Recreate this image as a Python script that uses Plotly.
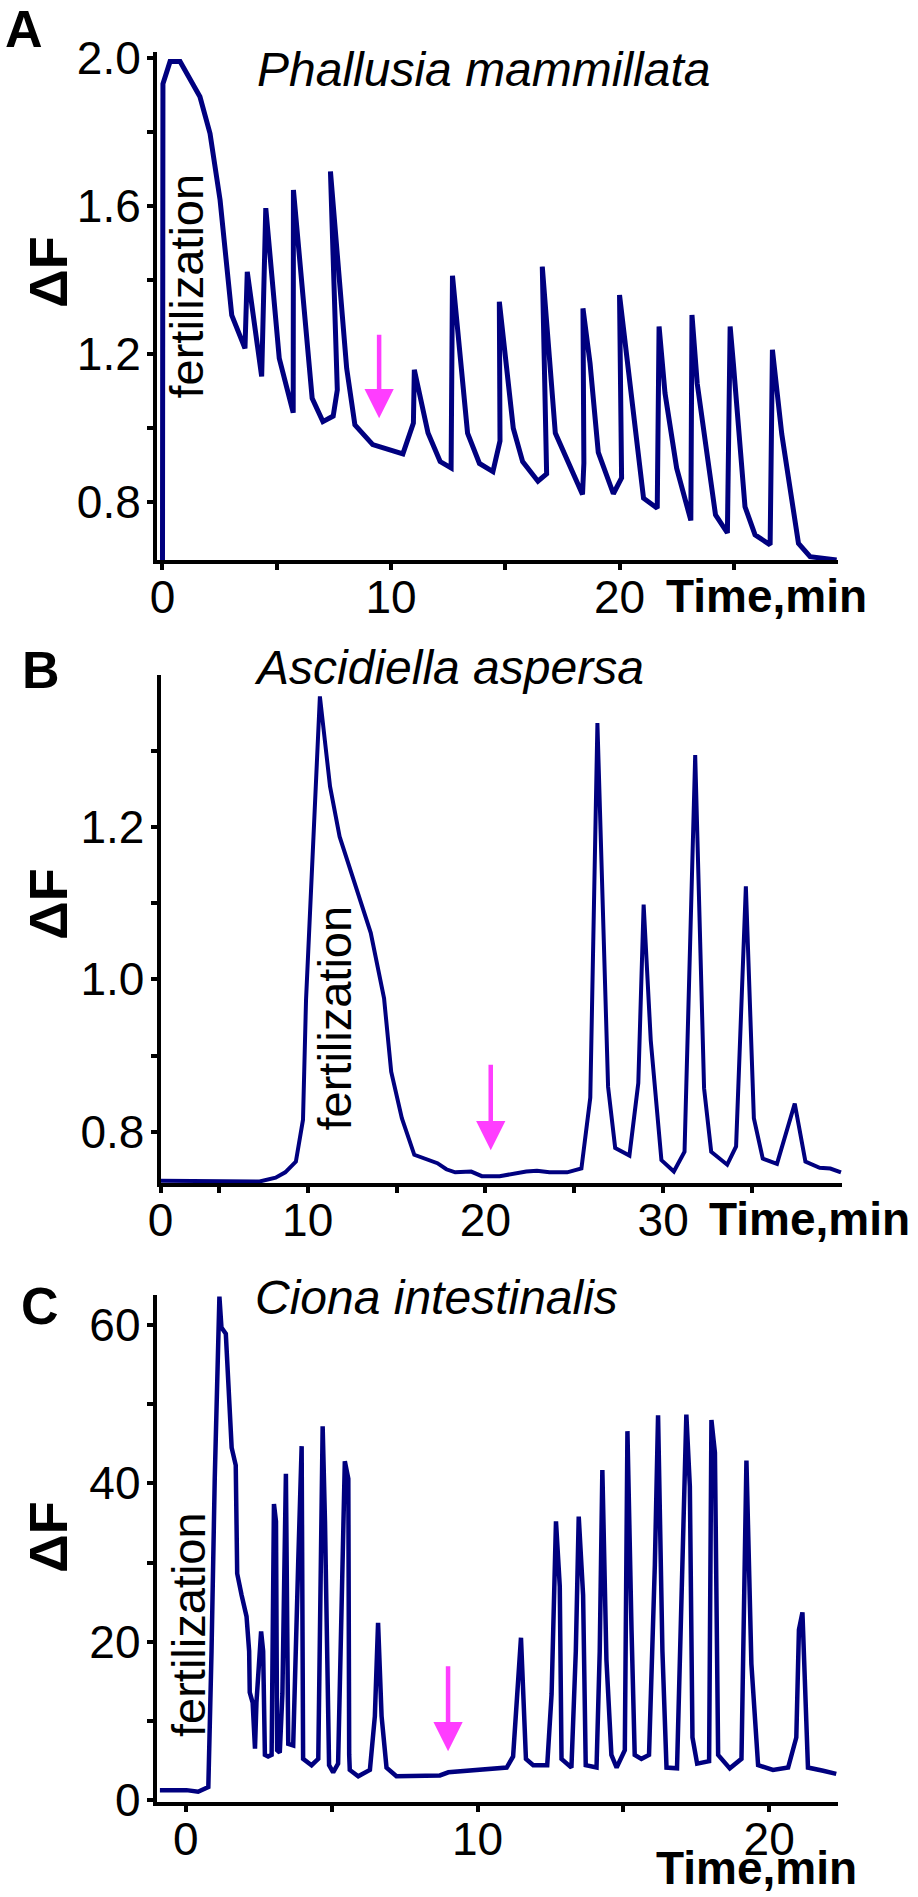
import plotly.graph_objects as go

W, H = 918, 1897
FONT = "Liberation Sans, Arial, Helvetica, sans-serif"
NAVY = "#00007F"
MAGENTA = "#FF3DFF"

# ---------------- data ----------------
# Panel A: Phallusia mammillata
a_time = [0.00, 0.02, 0.33, 0.77, 1.64, 2.08, 2.52, 2.81, 3.03, 3.61, 3.71, 4.34, 4.52, 5.11,
          5.72, 5.73, 6.55, 7.02, 7.47, 7.65, 7.35, 8.06, 8.42, 9.20, 10.52, 10.98, 11.02,
          11.62, 12.15, 12.63, 12.67, 12.69, 13.35, 13.87, 14.46, 14.77, 14.74, 15.35, 15.76,
          16.43, 16.81, 16.62, 17.19, 18.38, 18.44, 18.40, 18.71, 19.07, 19.73, 20.09, 20.00,
          21.05, 21.65, 21.67, 21.73, 21.99, 22.50, 23.12, 23.17, 23.40, 24.20, 24.72, 24.84,
          24.98, 25.49, 25.93, 26.59, 26.69, 27.10, 27.83, 28.34, 29.50]
a_dF = [0.60, 1.93, 1.99, 1.99, 1.895, 1.796, 1.616, 1.418, 1.305, 1.215, 1.422, 1.139, 1.594, 1.188,
        1.041, 1.643, 1.080, 1.017, 1.032, 1.103, 1.693, 1.161, 1.008, 0.955, 0.930, 1.013, 1.157,
        0.986, 0.909, 0.892, 1.112, 1.411, 0.986, 0.904, 0.882, 0.965, 1.341, 0.999, 0.909,
        0.856, 0.876, 1.436, 0.986, 0.820, 0.905, 1.323, 1.175, 0.934, 0.822, 0.865, 1.359,
        0.810, 0.783, 1.022, 1.274, 1.094, 0.891, 0.750, 1.305, 1.120, 0.765, 0.716, 1.274,
        1.175, 0.787, 0.711, 0.684, 1.211, 0.983, 0.688, 0.652, 0.643]

# Panel B: Ascidiella aspersa
b_time = [1.73, 4.0, 7.3, 8.2, 8.74, 9.34, 9.74, 9.91, 10.41, 10.69, 11.26, 11.8, 13.55, 14.3,
          14.7, 15.3, 16.0, 17.3, 17.8, 18.3, 19.2, 19.8, 20.8, 22.3, 22.9, 23.6, 24.6, 25.4,
          25.9, 26.3, 26.9, 27.3, 28.1, 28.6, 28.9, 29.3, 29.9, 30.6, 31.2, 31.8, 32.3, 32.7,
          33.6, 34.1, 34.65, 35.1, 35.6, 36.4, 37.4, 38.0, 38.8, 39.4, 40.0]
b_dF = [0.736, 0.736, 0.735, 0.740, 0.747, 0.761, 0.816, 0.973, 1.218, 1.371, 1.253, 1.187, 1.061,
        0.975, 0.879, 0.818, 0.770, 0.759, 0.751, 0.747, 0.748, 0.742, 0.742, 0.748, 0.749, 0.747,
        0.747, 0.752, 0.845, 1.336, 0.859, 0.779, 0.769, 0.864, 1.098, 0.920, 0.763, 0.748, 0.774,
        1.294, 0.857, 0.774, 0.757, 0.781, 1.122, 0.818, 0.765, 0.758, 0.837, 0.761, 0.753, 0.752,
        0.747]

# Panel C: Ciona intestinalis
c_time = [-0.89, 0.02, 0.42, 0.77, 0.88, 0.99, 1.15, 1.22, 1.37, 1.49, 1.57, 1.71, 1.76, 1.91,
          2.08, 2.17, 2.19, 2.29, 2.37, 2.42, 2.58, 2.65, 2.71, 2.82, 2.94, 3.02, 3.09, 3.13, 3.22,
          3.31, 3.43, 3.51, 3.68, 3.85, 3.97, 4.02, 4.31, 4.54, 4.69, 4.77, 4.91, 5.05, 5.22, 5.45,
          5.57, 5.60, 5.62, 5.91, 6.31, 6.48, 6.59, 6.71, 6.88, 7.22, 7.91, 8.71, 9.00, 9.40, 11.00,
          11.22, 11.49, 11.66, 11.91, 12.39, 12.54, 12.69, 12.82, 12.88, 13.22, 13.37, 13.47, 13.62,
          13.71, 14.08, 14.19, 14.28, 14.42, 14.59, 14.77, 15.05, 15.14, 15.28, 15.39, 15.62, 15.88,
          16.08, 16.19, 16.34, 16.48, 16.84, 17.03, 17.16, 17.28, 17.37, 17.53, 17.94, 18.02, 18.14,
          18.25, 18.65, 19.05, 19.22, 19.39, 19.62, 20.13, 20.65, 20.93, 21.02, 21.14, 21.33, 21.85,
          22.30]
c_dF = [1.25, 1.25, 1.04, 1.64, 18.8, 40.6, 63.6, 59.7, 58.9, 49.9, 44.5, 42.3, 28.6, 25.9,
        23.2, 18.8, 13.6, 12.3, 6.5, 12.3, 21.3, 18.8, 5.7, 5.5, 5.7, 37.4, 35.2, 6.3, 6.0,
        13.4, 41.2, 7.1, 6.9, 29.7, 44.7, 5.2, 4.4, 5.2, 47.2, 35.2, 4.4, 3.5, 4.6, 42.8,
        40.6, 5.7, 3.8, 3.0, 3.8, 10.6, 22.4, 10.6, 4.1, 3.0, 3.0, 3.1, 3.5, 3.6, 4.1,
        5.5, 20.5, 5.2, 4.4, 4.4, 13.4, 35.2, 27.0, 5.2, 4.1, 18.8, 35.8, 25.9,
        4.4, 4.1, 18.8, 41.7, 17.7, 5.7, 4.1, 6.3, 46.6, 21.5, 5.7, 5.2, 5.7,
        29.7, 48.6, 18.8, 4.1, 4.0, 29.7, 48.7, 39.6, 7.9, 4.6, 4.9, 48.0, 43.9,
        5.7, 4.0, 5.2, 42.9, 17.2, 4.4, 3.8, 4.1, 7.9, 21.5, 23.7, 4.1, 3.7,
        3.3]

species = ["Phallusia mammillata", "Ascidiella aspersa", "Ciona intestinalis"]
panel_letters = ["A", "B", "C"]
y_label = "\u0394F"
x_label = "Time,min"
event_label = "fertilization"

# magenta arrows (time, tail value, tip value)
arrow_time = [9.48, 20.3, 8.99]
arrow_tail = [1.256, 0.89, 17.1]
arrow_tip = [1.026, 0.776, 6.15]

# tick labels
a_xticks = [0, 10, 20]
a_yticks = [0.8, 1.2, 1.6, 2.0]
b_xtickvals = [1.73, 10, 20, 30]
b_xticktext = ["0", "10", "20", "30"]
b_yticks = [0.8, 1.0, 1.2]
c_xticks = [0, 10, 20]
c_yticks = [0, 20, 40, 60]


def px(x):
    return x / W


def py(y):
    return 1 - y / H


fig = go.Figure()

series = [(a_time, a_dF, 5.0), (b_time, b_dF, 4.0), (c_time, c_dF, 4.5)]
for i, (t, v, lw) in enumerate(series):
    sfx = "" if i == 0 else str(i + 1)
    fig.add_trace(go.Scatter(x=t, y=v, mode="lines", line=dict(color=NAVY, width=lw),
                             xaxis="x" + sfx, yaxis="y" + sfx, showlegend=False,
                             hoverinfo="skip"))

common = dict(showline=True, linecolor="black", linewidth=4, mirror=False,
              ticks="outside", ticklen=6, tickwidth=4, tickcolor="black",
              showgrid=False, zeroline=False, automargin=False,
              tickfont=dict(family=FONT, size=46, color="black"))


def minor(tick0, dtick):
    return dict(tickmode="linear", tick0=tick0, dtick=dtick, ticks="outside",
                ticklen=6, tickwidth=4, tickcolor="black", showgrid=False)


panels = [
    dict(xd=(157, 838), yd=(52, 560), xr=[-0.24, 29.56], yr=[0.643, 2.016],
         xt=dict(tickmode="array", tickvals=a_xticks, ticktext=[str(v) for v in a_xticks]),
         yt=dict(tickmode="array", tickvals=a_yticks, ticktext=["%.1f" % v for v in a_yticks]),
         xm=minor(0, 5), ym=minor(0, 0.2)),
    dict(xd=(160.6, 842.4), yd=(675, 1183), xr=[1.73, 40.08], yr=[0.733, 1.399],
         xt=dict(tickmode="array", tickvals=b_xtickvals, ticktext=b_xticktext),
         yt=dict(tickmode="array", tickvals=b_yticks, ticktext=["%.1f" % v for v in b_yticks]),
         xm=minor(5, 10), ym=minor(0.1, 0.2)),
    dict(xd=(156.7, 838.3), yd=(1295, 1802), xr=[-1.0, 22.37], yr=[-0.25, 63.8],
         xt=dict(tickmode="array", tickvals=c_xticks, ticktext=[str(v) for v in c_xticks]),
         yt=dict(tickmode="array", tickvals=c_yticks, ticktext=[str(v) for v in c_yticks]),
         xm=minor(0, 5), ym=minor(0, 10)),
]

layout = dict(width=W, height=H, margin=dict(l=0, r=0, t=0, b=0, pad=0),
              paper_bgcolor="white", plot_bgcolor="white", showlegend=False)
for i, p in enumerate(panels):
    sfx = "" if i == 0 else str(i + 1)
    xa = dict(common, domain=[px(p["xd"][0]), px(p["xd"][1])], range=p["xr"],
              anchor="y" + sfx, minor=p["xm"], ticklabelstandoff=-12, **p["xt"])
    ya = dict(common, domain=[py(p["yd"][1]), py(p["yd"][0])], range=p["yr"],
              anchor="x" + sfx, minor=p["ym"], ticklabelstandoff=-3, **p["yt"])
    layout["xaxis" + sfx] = xa
    layout["yaxis" + sfx] = ya
fig.update_layout(**layout)

# text placements in pixels
letter_pos = [(24, 29), (41, 670), (40, 1306)]
title_pos = [(483.5, 70), (448.5, 667), (436, 1297.5)]
dF_pos = [(47.5, 272.5), (48, 904), (48, 1537)]
time_pos = [(766, 596), (809.5, 1219), (756, 1868)]
fert_pos = [(186, 286.5), (334, 1018.5), (188, 1625)]

ann = []
for i in range(3):
    sfx = "" if i == 0 else str(i + 1)
    ann.append(dict(text="<b>%s</b>" % panel_letters[i], x=px(letter_pos[i][0]), y=py(letter_pos[i][1]),
                    xref="paper", yref="paper", showarrow=False, xanchor="center", yanchor="middle",
                    font=dict(family=FONT, size=52, color="black")))
    ann.append(dict(text="<i>%s</i>" % species[i], x=px(title_pos[i][0]), y=py(title_pos[i][1]),
                    xref="paper", yref="paper", showarrow=False, xanchor="center", yanchor="middle",
                    font=dict(family=FONT, size=48, color="black")))
    ann.append(dict(text="<b>%s</b>" % y_label, x=px(dF_pos[i][0]), y=py(dF_pos[i][1]),
                    xref="paper", yref="paper", showarrow=False, xanchor="center", yanchor="middle",
                    textangle=-90, font=dict(family=FONT, size=54, color="black")))
    ann.append(dict(text="<b>%s</b>" % x_label, x=px(time_pos[i][0]), y=py(time_pos[i][1]),
                    xref="paper", yref="paper", showarrow=False, xanchor="center", yanchor="middle",
                    font=dict(family=FONT, size=46, color="black")))
    ann.append(dict(text=event_label, x=px(fert_pos[i][0]), y=py(fert_pos[i][1]),
                    xref="paper", yref="paper", showarrow=False, xanchor="center", yanchor="middle",
                    textangle=-90, font=dict(family=FONT, size=47, color="black")))
    ann.append(dict(text="", x=arrow_time[i], y=arrow_tip[i], ax=arrow_time[i], ay=arrow_tail[i],
                    xref="x" + sfx, yref="y" + sfx, axref="x" + sfx, ayref="y" + sfx,
                    showarrow=True, arrowhead=2, arrowsize=1.3, arrowwidth=4.5,
                    arrowcolor=MAGENTA, standoff=0))
fig.update_layout(annotations=ann)

fig.write_html("out.html", config={"displayModeBar": False, "staticPlot": True},
               post_script="document.body.style.margin='0px';document.body.style.padding='0px';")
